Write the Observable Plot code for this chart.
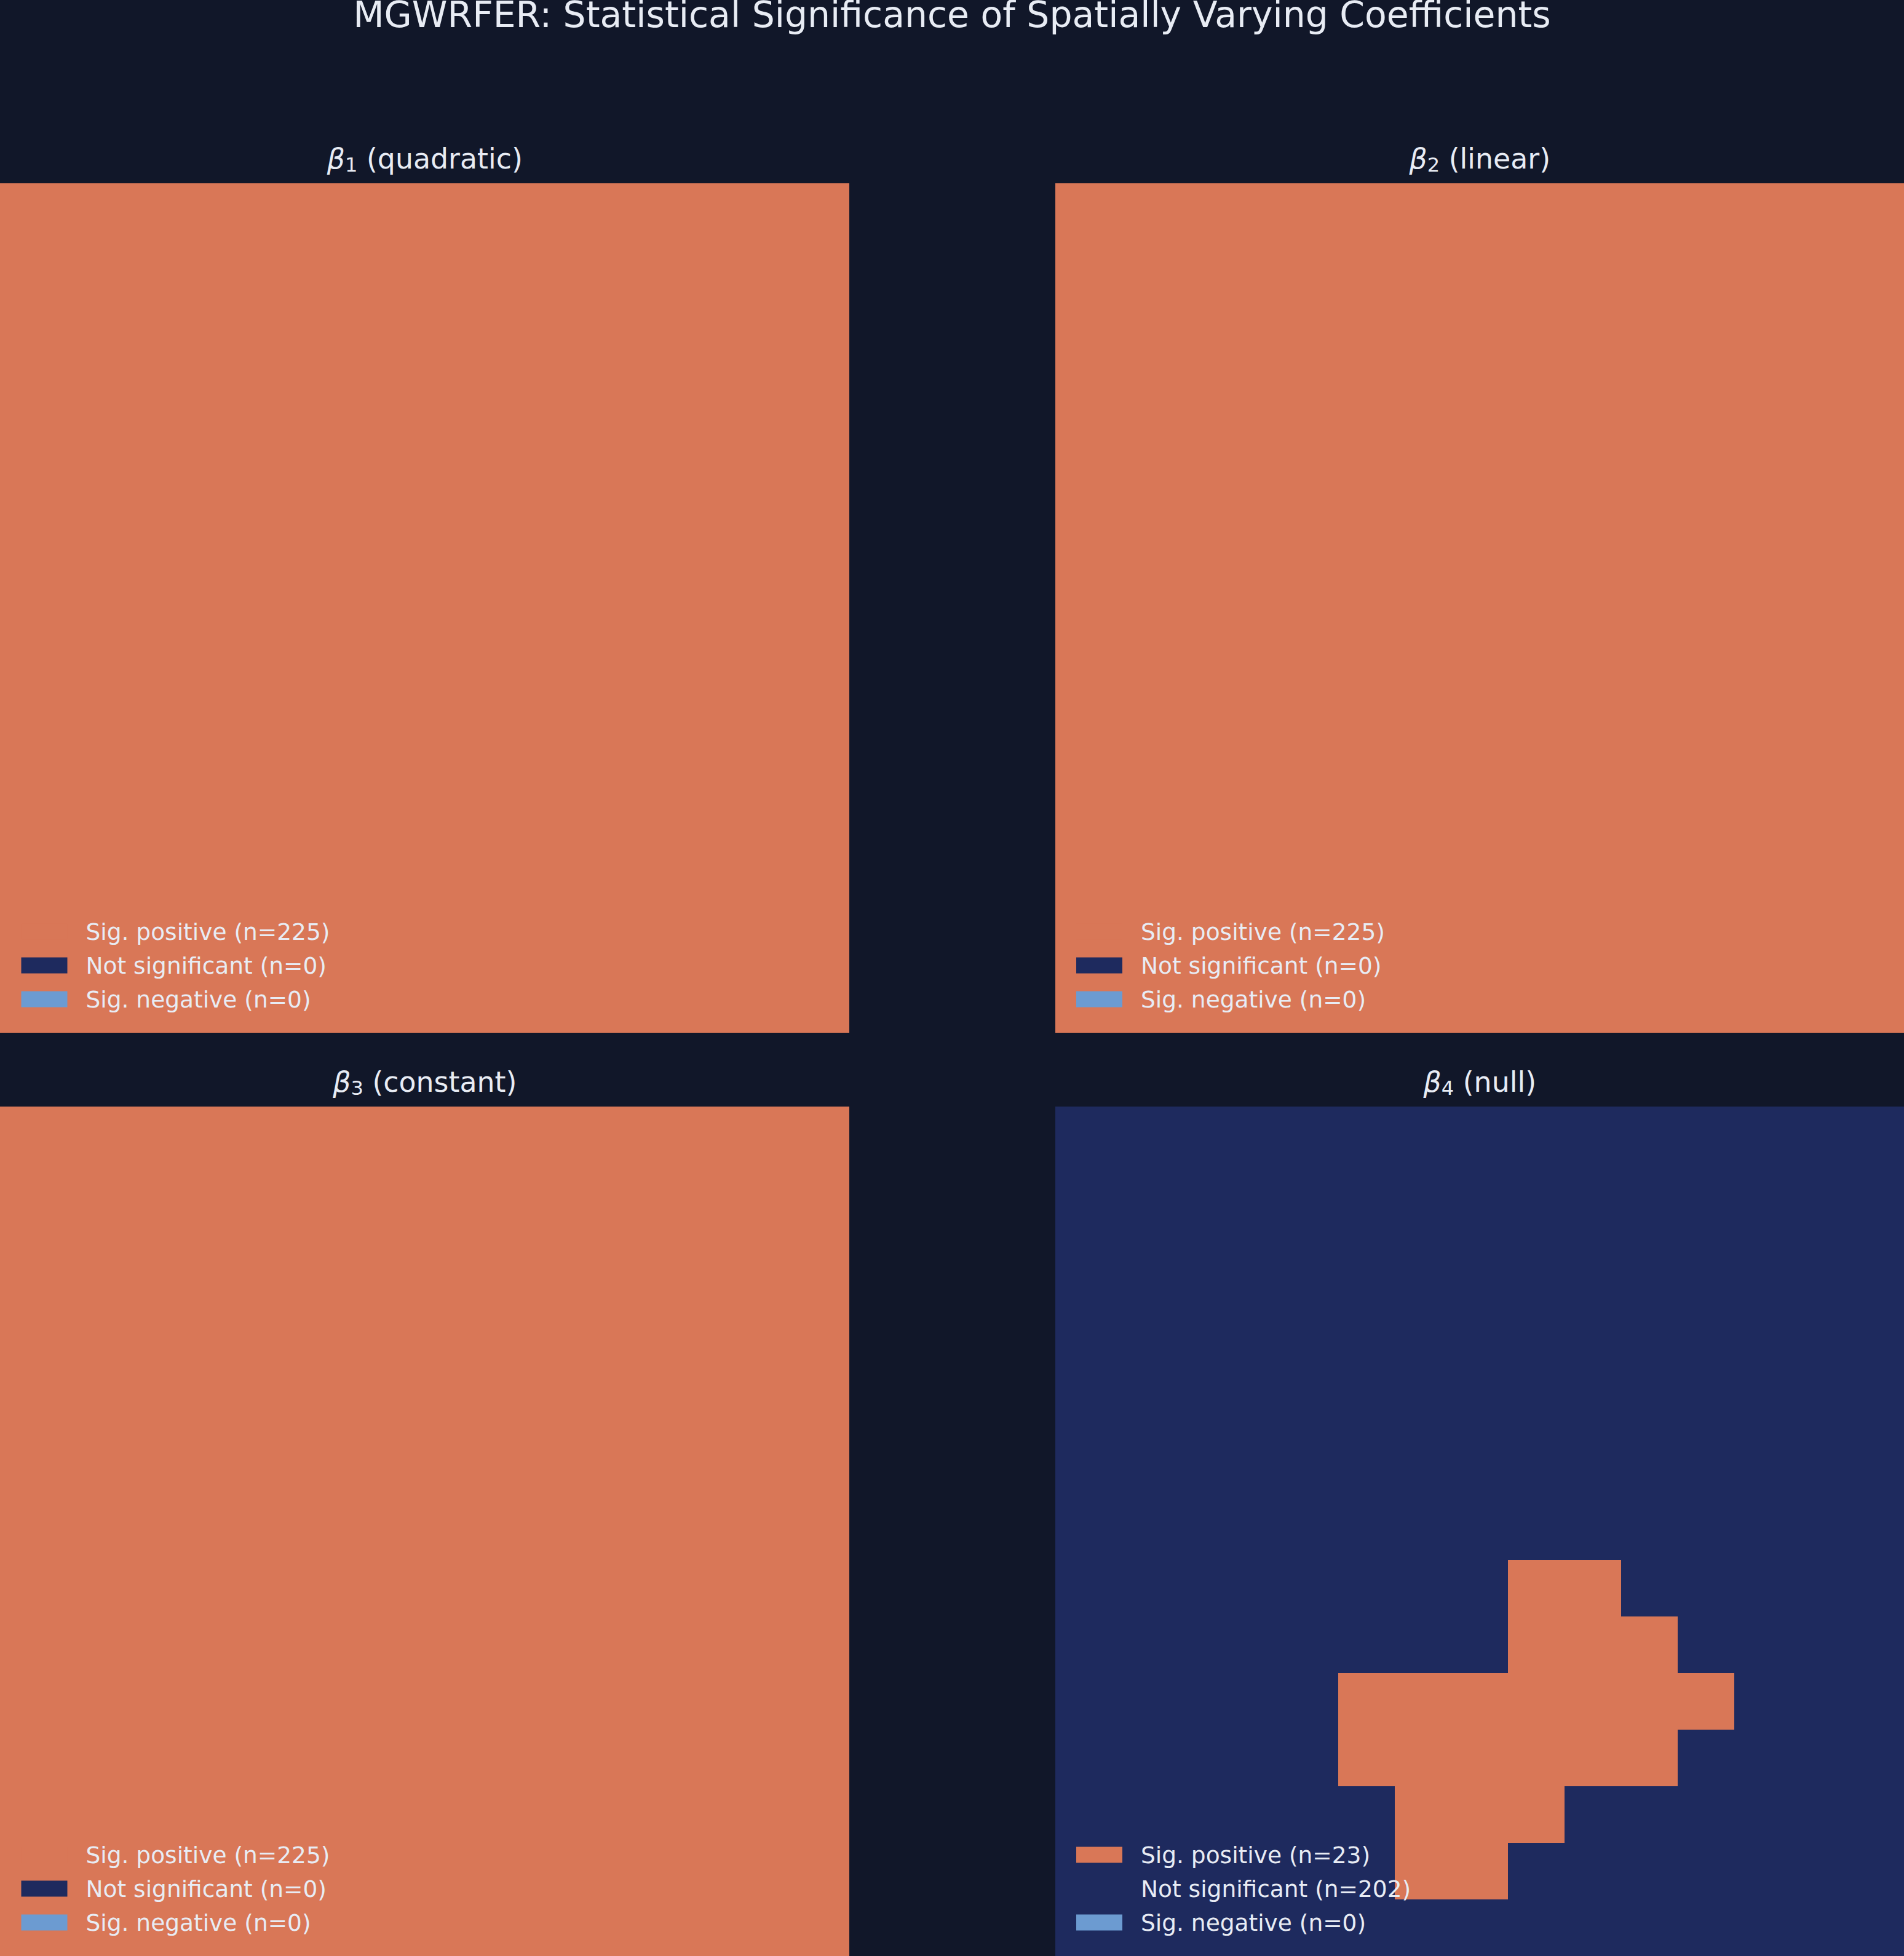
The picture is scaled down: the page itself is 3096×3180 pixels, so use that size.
<!DOCTYPE html>
<html>
<head>
<meta charset="utf-8">
<script src="https://cdn.jsdelivr.net/npm/d3@7"></script>
<script src="https://cdn.jsdelivr.net/npm/@observablehq/plot@0.6"></script>
<style>
  html, body { margin: 0; padding: 0; background: #111729; }
  #page { position: relative; width: 3096px; height: 3180px; overflow: hidden; background: #111729; font-family: "DejaVu Sans", sans-serif; }
  #title { position: absolute; left: 0; top: 0; width: 3096px; text-align: center; color: #e8ecf4; font-size: 58.4px; line-height: 48px; white-space: nowrap; }
  #chart { position: absolute; left: 0; top: 178px; }
  #chart svg { display: block; }
</style>
</head>
<body>
<div id="page">
  <div id="title"></div>
  <div id="chart"></div>
</div>
<script>
const figureTitle = "MGWRFER: Statistical Significance of Spatially Varying Coefficients";
const panelTitles = ["β1 (quadratic)", "β2 (linear)", "β3 (constant)", "β4 (null)"];
const statuses = ["Sig. positive", "Not significant", "Sig. negative"];
const statusColors = ["#d97757", "#1e2a5e", "#6c9bd1"];

// Status of every cell, top row first: P = sig. positive, N = not significant
const beta1Rows = [
  "PPPPPPPPPPPPPPP","PPPPPPPPPPPPPPP","PPPPPPPPPPPPPPP","PPPPPPPPPPPPPPP","PPPPPPPPPPPPPPP",
  "PPPPPPPPPPPPPPP","PPPPPPPPPPPPPPP","PPPPPPPPPPPPPPP","PPPPPPPPPPPPPPP","PPPPPPPPPPPPPPP",
  "PPPPPPPPPPPPPPP","PPPPPPPPPPPPPPP","PPPPPPPPPPPPPPP","PPPPPPPPPPPPPPP","PPPPPPPPPPPPPPP"
];
const beta2Rows = beta1Rows;
const beta3Rows = beta1Rows;
const beta4Rows = [
  "NNNNNNNNNNNNNNN",
  "NNNNNNNNNNNNNNN",
  "NNNNNNNNNNNNNNN",
  "NNNNNNNNNNNNNNN",
  "NNNNNNNNNNNNNNN",
  "NNNNNNNNNNNNNNN",
  "NNNNNNNNNNNNNNN",
  "NNNNNNNNNNNNNNN",
  "NNNNNNNNPPNNNNN",
  "NNNNNNNNPPPNNNN",
  "NNNNNPPPPPPPNNN",
  "NNNNNPPPPPPNNNN",
  "NNNNNNPPPNNNNNN",
  "NNNNNNPPNNNNNNN",
  "NNNNNNNNNNNNNNN"
];
const panelRows = [beta1Rows, beta2Rows, beta3Rows, beta4Rows];
const statusOfCode = {P: statuses[0], N: statuses[1]};

const cells = panelRows.flatMap((rows, p) =>
  rows.flatMap((line, row) =>
    Array.from(line, (code, col) => ({
      col, row, panelX: p % 2, panelY: Math.floor(p / 2), status: statusOfCode[code]
    }))));

const legendItems = panelRows.flatMap((rows, p) =>
  statuses.map((status, i) => ({
    panelX: p % 2,
    panelY: Math.floor(p / 2),
    status,
    row: i,
    label: `${status} (n=${cells.filter(c => c.panelX === p % 2 && c.panelY === Math.floor(p / 2) && c.status === status).length})`
  })));

const titleRows = panelTitles.map((label, p) => ({label, panelX: p % 2, panelY: Math.floor(p / 2)}));

const textColor = "#e8ecf4";
const swatch = {draw(ctx) { ctx.rect(-37.5, -13, 75, 26); }};
const rowSwatchDy = [-165, -110, -55];
const rowTextDy = [-152, -97, -42];

const legendMarks = statuses.flatMap((status, i) => {
  const rows = legendItems.filter(d => d.row === i);
  return [
    Plot.dot(rows, {
      fx: "panelX", fy: "panelY", frameAnchor: "bottom-left", dx: 71.5, dy: rowSwatchDy[i],
      fill: "status", symbol: swatch
    }),
    Plot.text(rows, {
      fx: "panelX", fy: "panelY", frameAnchor: "bottom-left", dx: 139, dy: rowTextDy[i],
      text: "label", textAnchor: "start", lineAnchor: "bottom", fontSize: 37.5, fill: textColor
    })
  ];
});

const chart = Plot.plot({
  width: 3096,
  height: 3002,
  marginTop: 120, marginBottom: 0, marginLeft: 0, marginRight: 0,
  style: {background: "transparent", fontFamily: "'DejaVu Sans', sans-serif", overflow: "visible"},
  x: {type: "band", domain: d3.range(15), padding: 0, round: false, axis: null},
  y: {type: "band", domain: d3.range(15), padding: 0, round: false, axis: null},
  fx: {domain: [0, 1], paddingInner: 335 / 1715.5, paddingOuter: 0, round: false, axis: null},
  fy: {domain: [0, 1], paddingInner: 120 / 1501, paddingOuter: 0, round: false, axis: null},
  color: {type: "ordinal", domain: statuses, range: statusColors},
  marks: [
    Plot.cell(cells, {x: "col", y: "row", fx: "panelX", fy: "panelY", fill: "status", shapeRendering: "crispEdges"}),
    Plot.text(titleRows, {
      fx: "panelX", fy: "panelY", frameAnchor: "top", dy: -25,
      text: "label", lineAnchor: "bottom", fontSize: 45.83, fill: textColor
    }),
    ...legendMarks
  ]
});

document.getElementById("title").textContent = figureTitle;
document.getElementById("chart").appendChild(chart);

// Typeset the panel titles: italic beta with a subscript index, as real text
d3.select(chart).selectAll("text").each(function () {
  const s = this.textContent;
  const m = /^β(\d)(.*)$/.exec(s);
  if (!m) return;
  const t = d3.select(this);
  const target = this.querySelector("tspan") ? d3.select(this.querySelector("tspan")) : t;
  target.text(null);
  target.append("tspan").attr("font-style", "italic").text("β");
  target.append("tspan").attr("font-size", "0.7em").attr("dy", "0.17em").text(m[1]);
  target.append("tspan").attr("dy", "-0.119em").text(m[2]);
});
</script>
</body>
</html>
